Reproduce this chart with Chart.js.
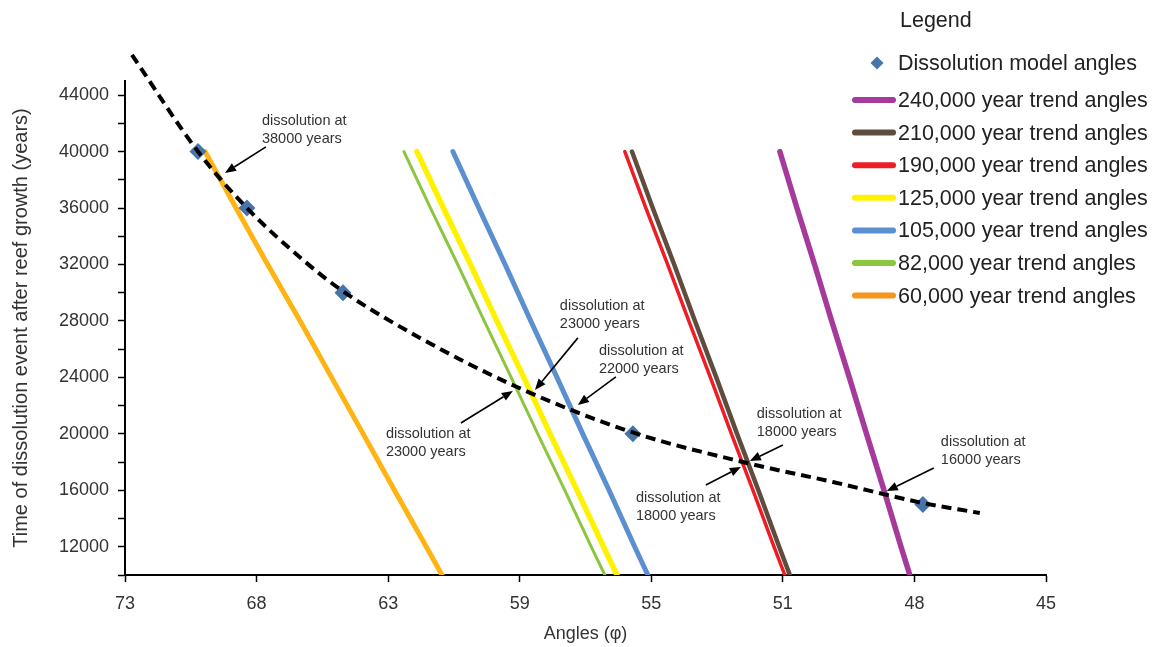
<!DOCTYPE html>
<html>
<head>
<meta charset="utf-8">
<script src="https://cdn.jsdelivr.net/npm/chart.js@4.4.1/dist/chart.umd.min.js"></script>
<style>
  html, body { margin: 0; padding: 0; background: #fff; }
</style>
</head>
<body>
<canvas id="myChart" width="1155" height="647"></canvas>
<script>
// x axis is linear in cot(angle); the tick labels are the rounded angles
var xTickValues = [0.3, 0.4, 0.5, 0.6, 0.7, 0.8, 0.9, 1.0];
var xTickLabels = ['73', '68', '63', '59', '55', '51', '48', '45'];
var yTickValues = [10000, 12000, 14000, 16000, 18000, 20000, 22000, 24000, 26000,
                   28000, 30000, 32000, 34000, 36000, 38000, 40000, 42000, 44000];

// trend lines, read at these times
var trendYears = [40000, 36000, 32000, 28000, 24000, 20000, 16000, 12000, 10000];
var trend240k = [0.7977, 0.8107, 0.8241, 0.8371, 0.8505, 0.8636, 0.8769, 0.8898, 0.8965];
var trend210k = [0.6853, 0.7011, 0.7174, 0.7332, 0.7494, 0.7652, 0.7814, 0.7972, 0.8053];
var trend190k = [0.6799, 0.6959, 0.7124, 0.7285, 0.7449, 0.7609, 0.7773, 0.7933, 0.8015];
var trend125k = [0.5219, 0.5420, 0.5626, 0.5826, 0.6031, 0.6231, 0.6436, 0.6637, 0.6739];
var trend105k = [0.5492, 0.5689, 0.5889, 0.6084, 0.6283, 0.6479, 0.6679, 0.6874, 0.6974];
var trend82k  = [0.5120, 0.5322, 0.5529, 0.5730, 0.5935, 0.6137, 0.6343, 0.6544, 0.6647];
var trend60k  = [0.3608, 0.3844, 0.4084, 0.4331, 0.4570, 0.4810, 0.5048, 0.5290, 0.5409];

// dissolution model points
var modelX = [0.3555, 0.3927, 0.4657, 0.6860, 0.9064];
var modelYears = [40000, 36000, 30000, 20000, 15000];

// dashed fit through the model points
var curveX = [0.3053, 0.3555, 0.3927, 0.4353, 0.4657, 0.5242, 0.5979, 0.6860,
              0.7726, 0.8380, 0.9064, 0.9497];
var curveYears = [46850, 40000, 36000, 32320, 30100, 26800, 23320, 20100,
                  17940, 16590, 15100, 14390];

// notes: text anchor, arrow start, arrow end (data units)
var noteText = [
  ['dissolution at', '38000 years'],
  ['dissolution at', '23000 years'],
  ['dissolution at', '22000 years'],
  ['dissolution at', '23000 years'],
  ['dissolution at', '18000 years'],
  ['dissolution at', '18000 years'],
  ['dissolution at', '16000 years']
];
var noteAt   = [[0.4041, 42170], [0.6305, 29060], [0.6602, 25870], [0.4983, 19990],
                [0.7802, 21410], [0.6883, 15460], [0.9201, 19430]];
var noteFrom = [[0.4071, 40330], [0.6442, 26800], [0.6731, 24030], [0.5553, 20770],
                [0.8000, 19210], [0.7415, 16380], [0.9147, 17580]];
var noteTo   = [[0.3760, 38490], [0.6116, 23110], [0.6442, 22050], [0.5948, 23040],
                [0.7749, 18080], [0.7681, 17650], [0.8790, 15950]];

function pts(xs, ys) {
    return xs.map(function(x, i) { return { x: x, y: ys[i] }; });
}

function trend(label, xs, color, width, legendColor) {
    return {
        label: label,
        data: pts(xs, trendYears),
        showLine: true,
        borderColor: color,
        backgroundColor: color,
        legendColor: legendColor || color,
        borderWidth: width,
        borderCapStyle: 'round',
        borderJoinStyle: 'round',
        pointRadius: 0,
        tension: 0
    };
}

var FONT = '"Liberation Sans", Arial, sans-serif';
Chart.defaults.font.family = FONT;
Chart.defaults.color = '#333';

function drawArrow(ctx, x1, y1, x2, y2) {
    var a = Math.atan2(y2 - y1, x2 - x1);
    var hl = 11, hw = 4.5;
    var bx = x2 - hl * Math.cos(a), by = y2 - hl * Math.sin(a);
    ctx.beginPath();
    ctx.moveTo(x1, y1);
    ctx.lineTo(bx, by);
    ctx.stroke();
    ctx.beginPath();
    ctx.moveTo(x2, y2);
    ctx.lineTo(bx + hw * Math.sin(a), by - hw * Math.cos(a));
    ctx.lineTo(bx - hw * Math.sin(a), by + hw * Math.cos(a));
    ctx.closePath();
    ctx.fill();
}

var notesPlugin = {
    id: 'notes',
    afterDatasetsDraw: function(chart) {
        var ctx = chart.ctx, sx = chart.scales.x, sy = chart.scales.y;
        ctx.save();
        ctx.font = '14.5px ' + FONT;
        ctx.textBaseline = 'middle';
        ctx.textAlign = 'left';
        ctx.strokeStyle = '#000';
        ctx.lineWidth = 1.6;
        noteText.forEach(function(t, i) {
            var px = sx.getPixelForValue(noteAt[i][0]);
            var py = sy.getPixelForValue(noteAt[i][1]);
            ctx.fillStyle = '#333';
            ctx.fillText(t[0], px, py);
            ctx.fillText(t[1], px, py + 18);
            ctx.fillStyle = '#000';
            drawArrow(ctx,
                sx.getPixelForValue(noteFrom[i][0]), sy.getPixelForValue(noteFrom[i][1]),
                sx.getPixelForValue(noteTo[i][0]), sy.getPixelForValue(noteTo[i][1]));
        });
        ctx.restore();
    }
};

// legend drawn by hand: it sits over the top right corner of the plot
var legendPlugin = {
    id: 'sideLegend',
    afterDraw: function(chart) {
        var ctx = chart.ctx;
        var order = [1, 8, 7, 6, 5, 4, 3, 2];
        ctx.save();
        ctx.font = '21.5px ' + FONT;
        ctx.fillStyle = '#222';
        ctx.textBaseline = 'middle';
        ctx.fillText('Legend', 900, 21);
        order.forEach(function(idx, row) {
            var ds = chart.data.datasets[idx];
            var y = row === 0 ? 63 : 100 + (row - 1) * 32.6;
            if (row === 0) {
                ctx.fillStyle = ds.backgroundColor;
                ctx.beginPath();
                ctx.moveTo(877, y - 6.5);
                ctx.lineTo(883.5, y);
                ctx.lineTo(877, y + 6.5);
                ctx.lineTo(870.5, y);
                ctx.closePath();
                ctx.fill();
            } else {
                ctx.strokeStyle = ds.legendColor;
                ctx.lineWidth = 6;
                ctx.lineCap = 'round';
                ctx.beginPath();
                ctx.moveTo(855, y);
                ctx.lineTo(893, y);
                ctx.stroke();
            }
            ctx.fillStyle = '#222';
            ctx.fillText(ds.label, 898, y + 1);
        });
        ctx.restore();
    }
};

var ctx = document.getElementById('myChart').getContext('2d');
var myChart = new Chart(ctx, {
    type: 'scatter',
    data: {
        datasets: [
            {
                label: 'Dissolution model fit',
                data: pts(curveX, curveYears),
                showLine: true,
                borderColor: '#000',
                borderWidth: 4,
                borderDash: [10, 6],
                pointRadius: 0,
                cubicInterpolationMode: 'monotone',
                clip: false
            },
            {
                label: 'Dissolution model angles',
                data: pts(modelX, modelYears),
                pointStyle: 'rectRot',
                pointRadius: 8.5,
                backgroundColor: '#4774ab',
                borderColor: '#4774ab',
                borderWidth: 0
            },
            trend('60,000 year trend angles', trend60k, '#ffb414', 5, '#f7941e'),
            trend('82,000 year trend angles', trend82k, '#8cc63f', 3),
            trend('105,000 year trend angles', trend105k, '#5b8fd0', 5),
            trend('125,000 year trend angles', trend125k, '#fff200', 5.5),
            trend('190,000 year trend angles', trend190k, '#ee1c24', 3.5),
            trend('210,000 year trend angles', trend210k, '#5e4c3e', 4.5),
            trend('240,000 year trend angles', trend240k, '#a63a9c', 5.5)
        ]
    },
    options: {
        responsive: false,
        animation: false,
        layout: { padding: { left: 0, right: 109, top: 81, bottom: 0 } },
        plugins: {
            legend: { display: false },
            tooltip: { enabled: false }
        },
        scales: {
            x: {
                type: 'linear',
                min: 0.3,
                max: 1.0,
                afterFit: function(s) { s.height = 72; },
                afterBuildTicks: function(s) {
                    s.ticks = xTickValues.map(function(v) { return { value: v }; });
                },
                ticks: {
                    autoSkip: false,
                    maxRotation: 0,
                    padding: 11,
                    font: { size: 18 },
                    color: '#333',
                    callback: function(v, i) { return xTickLabels[i]; }
                },
                grid: { drawOnChartArea: false, tickLength: 7, tickColor: '#000', tickWidth: 1.5 },
                border: { color: '#000', width: 2 },
                title: { display: true, text: 'Angles (φ)', font: { size: 18 }, color: '#333', padding: { top: 0, bottom: 2 } }
            },
            y: {
                type: 'linear',
                min: 10000,
                max: 45000,
                afterFit: function(s) { s.width = 125; },
                afterBuildTicks: function(s) {
                    s.ticks = yTickValues.map(function(v) { return { value: v }; });
                },
                ticks: {
                    autoSkip: false,
                    padding: 9,
                    font: { size: 18 },
                    color: '#333',
                    callback: function(v) { return v % 4000 === 0 ? String(v) : ''; }
                },
                grid: { drawOnChartArea: false, tickLength: 7, tickColor: '#000', tickWidth: 1.5 },
                border: { color: '#000', width: 2 },
                title: {
                    display: true,
                    text: 'Time of dissolution event after reef growth (years)',
                    font: { size: 20 },
                    color: '#333',
                    padding: { top: 9, bottom: 0 }
                }
            }
        }
    },
    plugins: [notesPlugin, legendPlugin]
});
</script>
</body>
</html>
